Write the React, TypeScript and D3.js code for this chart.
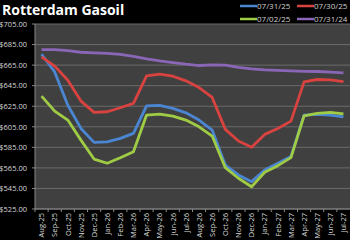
import React from "react";
import * as d3 from "d3";

const categories = [
  "Aug-25","Sep-25","Oct-25","Nov-25","Dec-25","Jan-26","Feb-26","Mar-26","Apr-26","May-26","Jun-26","Jul-26",
  "Aug-26","Sep-26","Oct-26","Nov-26","Dec-26","Jan-27","Feb-27","Mar-27","Apr-27","May-27","Jun-27","Jul-27",
];

const s073125 = [675.6, 658.4, 626, 603.4, 589.8, 590.4, 593.7, 598.6, 625.3, 625.8, 622.9, 618.6, 611.5, 601.8, 567.8, 558.1, 551.6, 563, 569.5, 576, 616.4, 617, 616.4, 614.7];
const s073025 = [673, 664, 650.3, 630, 619, 619.6, 623.5, 627.7, 654.5, 656.2, 654.2, 649.7, 643.2, 633.5, 602.5, 591.1, 585, 597.6, 603.4, 610.5, 648.7, 651, 650.6, 649];
const s070225 = [634.8, 620.2, 611.5, 592, 573.6, 569.5, 574.9, 580.7, 616.4, 617.3, 615.4, 611.5, 605, 596, 565.2, 554.9, 546.7, 560.7, 567.2, 575, 615.7, 618, 619, 617.6];
const s073124 = [680, 680, 679, 677.5, 677, 676.5, 675.5, 673.5, 671, 669.1, 667.5, 665.9, 664.6, 665.2, 664.9, 662.7, 661.3, 660.4, 659.8, 659.4, 659, 658.8, 658.1, 657.4];

const seriesNames = ["07/31/25", "07/30/25", "07/02/25", "07/31/24"];
const seriesColors = ["#4a86d2", "#d8433f", "#9fcb45", "#8a66b6"];
const yTicks = [525, 545, 565, 585, 605, 625, 645, 665, 685, 705];

export default function App() {
  const W = 350, H = 240;
  const left = 35, right = 350, top = 24, bottom = 209;
  const x = d3.scaleBand<string>().domain(categories).range([left, right]);
  const y = d3.scaleLinear().domain([525, 705]).range([bottom, top]);
  const series = [s073125, s073025, s070225, s073124];
  const line = d3
    .line<number>()
    .x((_, i) => (x(categories[i]) as number) + x.bandwidth() / 2)
    .y((d) => y(d));
  const font = "'Open Sans', 'DejaVu Sans', sans-serif";
  const legendPos = [
    [240, 6],
    [297, 6],
    [240, 19],
    [297, 19],
  ];
  return (
    <svg width={W} height={H} style={{ position: "absolute", left: 0, top: 0, background: "#000" }}>
      <rect x={0} y={0} width={W} height={H} fill="#000" />
      <rect x={left} y={top} width={right - left} height={bottom - top} fill="#404040" />
      {yTicks.map((t) => (
        <g key={t}>
          <line x1={left} x2={right} y1={y(t)} y2={y(t)} stroke="#6a6a6a" strokeWidth={1} />
          <line x1={left - 3} x2={left} y1={y(t)} y2={y(t)} stroke="#888" strokeWidth={1} />
          <text x={27} y={y(t) + 2.8} textAnchor="end" fill="#d8d8d8" fontSize={7.5} fontFamily={font}>
            {"$" + t.toFixed(2)}
          </text>
        </g>
      ))}
      <line x1={left} x2={left} y1={top} y2={bottom} stroke="#888" strokeWidth={1} />
      <line x1={left} x2={right} y1={bottom} y2={bottom} stroke="#888" strokeWidth={1} />
      {categories.map((c, i) => (
        <line key={"t" + i} x1={(x(c) as number)} x2={(x(c) as number)} y1={bottom} y2={bottom + 3} stroke="#888" />
      ))}
      {categories.map((c) => {
        const cx = (x(c) as number) + x.bandwidth() / 2;
        return (
          <text
            key={c}
            transform={`translate(${cx + 2.8},${bottom + 4}) rotate(-90)`}
            textAnchor="end"
            fill="#d8d8d8"
            fontSize={7.5}
            fontFamily={font}
          >
            {c}
          </text>
        );
      })}
      {series.map((s, k) => (
        <path key={k} d={line(s) || ""} fill="none" stroke={seriesColors[k]} strokeWidth={2.8} strokeLinejoin="round" />
      ))}
      <text x={2} y={14.5} fill="#fff" fontSize={14} fontWeight="bold" fontFamily={font}>
        Rotterdam Gasoil
      </text>
      {seriesNames.map((n, k) => (
        <g key={n}>
          <line x1={legendPos[k][0]} x2={legendPos[k][0] + 17} y1={legendPos[k][1]} y2={legendPos[k][1]} stroke={seriesColors[k]} strokeWidth={2.5} />
          <text x={legendPos[k][0] + 17} y={legendPos[k][1] + 3} fill="#cfcfcf" fontSize={8} fontFamily={font}>
            {n}
          </text>
        </g>
      ))}
    </svg>
  );
}
